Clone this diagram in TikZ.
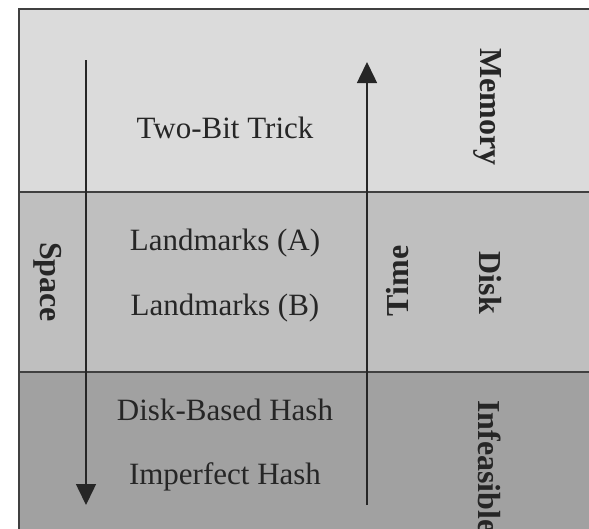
\documentclass[tikz,border=0pt]{standalone}
\usepackage{fontspec}
\setmainfont{Liberation Serif}
\usetikzlibrary{arrows.meta}

\begin{document}
\begin{tikzpicture}[x=1pt,y=-1pt,font=\fontsize{31}{36}\selectfont,
    every node/.style={inner sep=0,text=black!85},
    side/.style={rotate=-90,font=\fontsize{32}{36}\selectfont\bfseries},
    axis/.style={line width=1.5pt,draw=black!85,-{Triangle[width=20pt,length=21pt]}}]
\useasboundingbox (0,0) rectangle (589,528);
\clip (0,0) rectangle (589,528);

% the three storage bands
\foreach \s/\ya/\yb in {14/9/192,25/192/372,37/372/560}{
    \path[fill=black!\s,draw=black!75,line width=2pt] (19,\ya) rectangle (620,\yb);
}

\node (twobit) at (225,128) {Two-Bit Trick};
\node (landa) at (225,243) {Landmarks (A)};
\node (landb) at (225,308) {Landmarks (B)};
\node (diskhash) at (225,410) {Disk-Based Hash};
\node (imphash) at (225,477) {Imperfect Hash};

\node[side] (memory) at (488,107) {Memory};
\node[side] (disk) at (490,283) {Disk};
\node[side,anchor=west] (infeasible) at (490,400) {Infeasible};

% space grows downwards, time upwards
\node[side] (space) at (48,282) {Space};
\node[side,rotate=180] (time) at (398,281) {Time};
\coordinate (spacetop) at (86,60);
\coordinate (spacebot) at (86,505);
\coordinate (timebot) at (367,505);
\coordinate (timetop) at (367,62);
\draw[axis] (spacetop) -- (spacebot);
\draw[axis] (timebot) -- (timetop);
\end{tikzpicture}
\end{document}
